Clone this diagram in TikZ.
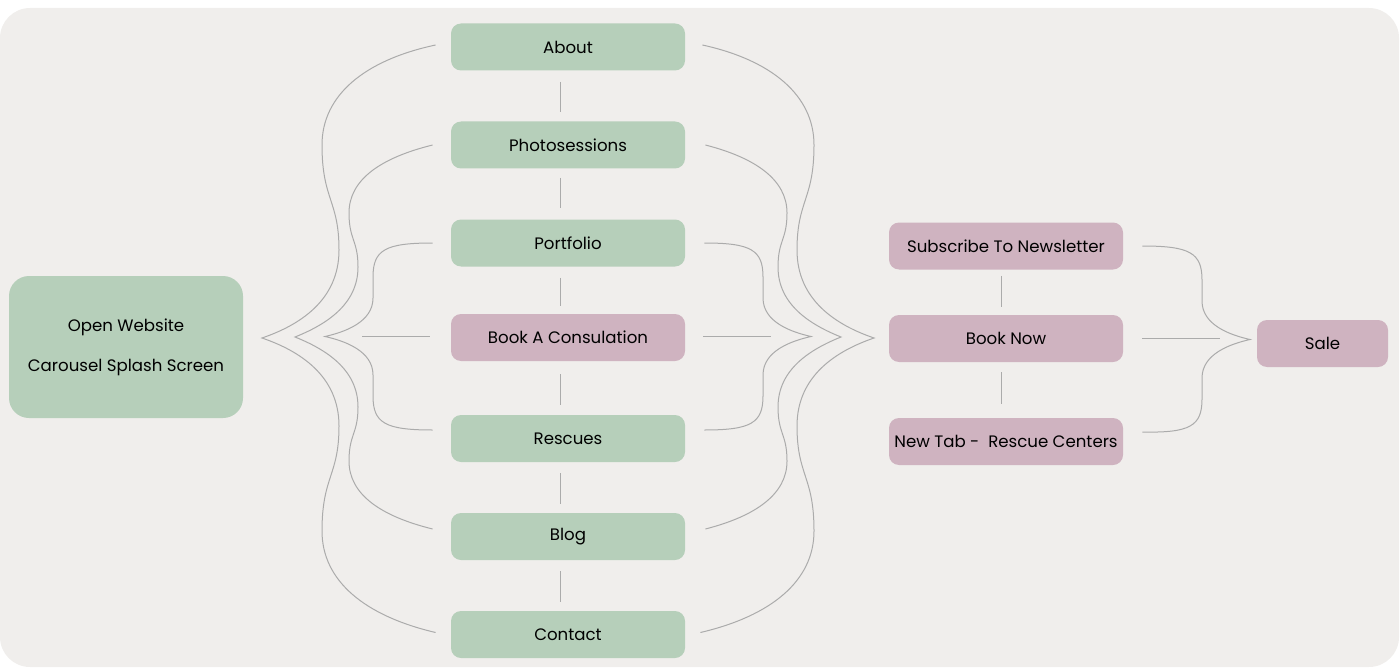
\documentclass[tikz,border=0pt]{standalone}
\usepackage{fontspec}
\setmainfont{Poppins}
\usetikzlibrary{calc}
\definecolor{bg}{HTML}{F0EEEC}
\definecolor{grn}{HTML}{B6CFBA}
\definecolor{pnk}{HTML}{CFB3C0}
\definecolor{ln}{HTML}{ABABAB}
\begin{document}
\begin{tikzpicture}[x=0.5pt,y=-0.5pt,
  box/.style={rounded corners=5pt, inner sep=0pt, minimum width=117pt, minimum height=23.5pt, font=\fontsize{8.3}{10}\selectfont, text=black},
  gbox/.style={box, fill=grn},
  pbox/.style={box, fill=pnk},
  wire/.style={draw=ln, line width=0.5pt}]
\useasboundingbox (0,0) rectangle (1400,668);
\fill[bg, rounded corners=15pt] (0,8) rectangle (1399,667);

% nodes
\node[gbox, minimum height=71pt, rounded corners=10pt, align=center, font=\fontsize{8.3}{20}\selectfont] (open) at (126,347) {\raisebox{-1pt}{Open Website}\\\raisebox{-1pt}{Carousel Splash Screen}};
\node[gbox] (about) at (568,47) {About};
\node[gbox] (photo) at (568,145) {Photosessions};
\node[gbox] (portfolio) at (568,243) {Portfolio};
\node[pbox] (consult) at (568,337.5) {Book A Consulation};
\node[gbox] (rescues) at (568,438.5) {Rescues};
\node[gbox] (blog) at (568,536.5) {Blog};
\node[gbox] (contact) at (568,634.5) {Contact};
\node[pbox] (sub) at (1006,246) {Subscribe To Newsletter};
\node[pbox] (book) at (1006,338.5) {Book Now};
\node[pbox] (newtab) at (1006,441.5) {New Tab -\ \ Rescue Centers};
\node[pbox, minimum width=65.5pt] (sale) at (1322.5,343.5) {Sale};

% vertical links
\draw[wire] ($(about.south)+(-8,11)$) -- ($(photo.north)+(-8,-9)$);
\draw[wire] ($(photo.south)+(-8,9)$) -- ($(portfolio.north)+(-8,-11)$);
\draw[wire] ($(portfolio.south)+(-8,11)$) -- ($(consult.north)+(-8,-8)$);
\draw[wire] ($(consult.south)+(-8,13)$) -- ($(rescues.north)+(-8,-10)$);
\draw[wire] ($(rescues.south)+(-8,11)$) -- ($(blog.north)+(-8,-9)$);
\draw[wire] ($(blog.south)+(-8,11)$) -- ($(contact.north)+(-8,-9)$);
\draw[wire] ($(sub.south)+(-5,6)$) -- ($(book.north)+(-5,-8)$);
\draw[wire] ($(book.south)+(-5,10)$) -- ($(newtab.north)+(-5,-14)$);

% tips
\coordinate (tL1) at (262,338);
\coordinate (tL2) at (295,337);
\coordinate (tL3) at (325,336.5);
\coordinate (tR1) at (874,338);
\coordinate (tR2) at (841,337);
\coordinate (tR3) at (811,336.5);
\coordinate (tS) at (1250,339.5);

% left braces
\draw[wire] ($(about.west)+(-15,-2)$) .. controls (365,60) and (322,95) .. (322,145)
  .. controls (322,200) and (339,200) .. (339,250) .. controls (339,300) and (300,325) .. (tL1)
  .. controls (300,351) and (339,376) .. (339,426) .. controls (339,476) and (322,476) .. (322,531)
  .. controls (322,581) and (365,616) .. ($(contact.west)+(-15,-2)$);
\draw[wire] ($(photo.west)+(-18,0)$) .. controls (380,158) and (349,180) .. (349,213)
  .. controls (349,240) and (358,240) .. (358,267) .. controls (358,305) and (325,325) .. (tL2)
  .. controls (325,349) and (358,369) .. (358,407) .. controls (358,434) and (349,434) .. (349,461)
  .. controls (349,494) and (380,516) .. ($(blog.west)+(-18,-7.5)$);
\draw[wire] ($(portfolio.west)+(-18,0)$) .. controls (385,243) and (373,250) .. (373,277) -- (373,298)
  .. controls (373,322) and (345,332) .. (tL3)
  .. controls (345,341) and (373,351) .. (373,375) -- (373,396)
  .. controls (373,423) and (385,430) .. ($(rescues.west)+(-18,-8.5)$);
\draw[wire] ($(consult.west)+(-21,-1)$) -- ($(consult.west)+(-89,-1)$);

% right braces
\draw[wire] ($(about.east)+(17,-2)$) .. controls (771,60) and (814,95) .. (814,145)
  .. controls (814,200) and (797,200) .. (797,250) .. controls (797,300) and (836,325) .. (tR1)
  .. controls (836,351) and (797,376) .. (797,426) .. controls (797,476) and (814,476) .. (814,531)
  .. controls (814,581) and (771,616) .. ($(contact.east)+(15,-2)$);
\draw[wire] ($(photo.east)+(20,0)$) .. controls (756,158) and (787,180) .. (787,213)
  .. controls (787,240) and (778,240) .. (778,267) .. controls (778,305) and (811,325) .. (tR2)
  .. controls (811,349) and (778,369) .. (778,407) .. controls (778,434) and (787,434) .. (787,461)
  .. controls (787,494) and (756,516) .. ($(blog.east)+(20,-7.5)$);
\draw[wire] ($(portfolio.east)+(19,0)$) .. controls (751,243) and (763,250) .. (763,277) -- (763,298)
  .. controls (763,322) and (791,332) .. (tR3)
  .. controls (791,341) and (763,351) .. (763,375) -- (763,396)
  .. controls (763,423) and (751,430) .. ($(rescues.east)+(19,-8.5)$);
\draw[wire] ($(consult.east)+(18,-1)$) -- ($(consult.east)+(86,-1)$);

% sale brace
\draw[wire] ($(sub.east)+(19,0)$) .. controls (1190,246) and (1202,253) .. (1202,280) -- (1202,301)
  .. controls (1202,325) and (1230,335) .. (tS)
  .. controls (1230,344) and (1202,354) .. (1202,378) -- (1202,399)
  .. controls (1202,426) and (1190,433) .. ($(newtab.east)+(19,-9.5)$);
\draw[wire] ($(book.east)+(19,0)$) -- ($(book.east)+(97,0)$);
\end{tikzpicture}
\end{document}
